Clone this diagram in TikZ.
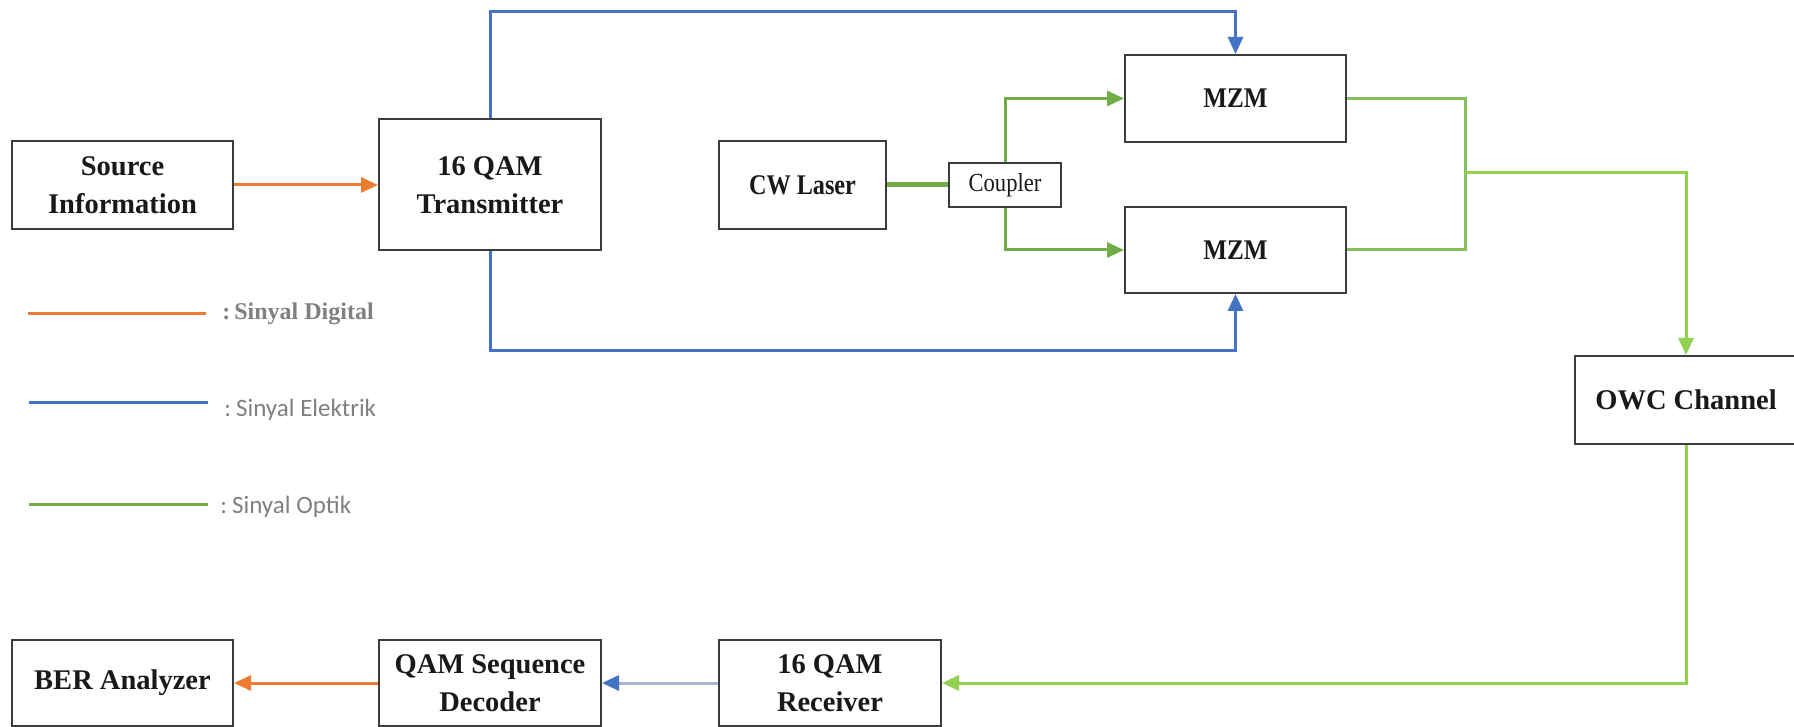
\documentclass[tikz,border=0pt]{standalone}
\usepackage{fontspec}
\setmainfont{Liberation Serif}
\newfontfamily\legsans{Carlito}
\usetikzlibrary{arrows.meta}
\definecolor{cOr}{HTML}{ED7D31}
\definecolor{cBl}{HTML}{4472C4}
\definecolor{cBlL}{HTML}{A6B6CF}
\definecolor{cGr}{HTML}{70AD47}
\definecolor{cGrM}{HTML}{86C05E}
\definecolor{cGrL}{HTML}{92D050}
\definecolor{cBox}{HTML}{3C3C3C}
\definecolor{cLeg}{HTML}{808080}
\begin{document}
\begin{tikzpicture}[x=0.5pt,y=-0.5pt,
  blk/.style={draw=cBox, line width=1pt, inner sep=0pt, align=center,
    font=\fontsize{14.25pt}{19pt}\selectfont\bfseries, text=black!90},
  tipA/.style={-{Triangle[length=8.5pt,width=7.5pt]}},
  wire/.style={line width=1.5pt},
  legtxt/.style={anchor=west, text=cLeg, inner sep=0pt}]
\useasboundingbox (0,0) rectangle (1794,727);
\fill[white] (0,0) rectangle (1794,727);

% blocks
\node[blk, minimum width=110.5pt, minimum height=44pt] (src) at (122.5,185) {Source\\Information};
\node[blk, minimum width=111pt, minimum height=65.5pt] (tx) at (490,185) {16 QAM\\Transmitter};
\node[blk, minimum width=83.5pt, minimum height=44pt] (cw) at (802.5,185) {\scalebox{0.85}[1]{CW Laser}};
\node[blk, minimum width=56pt, minimum height=22pt, font=\fontsize{13pt}{15pt}\selectfont] (cp) at (1005,185) {\scalebox{0.87}[1]{Coupler}};
\node[blk, minimum width=110.5pt, minimum height=43.5pt] (mzm1) at (1235.5,98.5) {\scalebox{0.88}[1]{MZM}};
\node[blk, minimum width=110.5pt, minimum height=43pt] (mzm2) at (1235.5,250) {\scalebox{0.88}[1]{MZM}};
\node[blk, minimum width=111pt, minimum height=44pt] (owc) at (1686,400) {OWC Channel};
\node[blk, minimum width=110.5pt, minimum height=43pt] (ber) at (122.5,683) {BER Analyzer};
\node[blk, minimum width=111pt, minimum height=43pt] (dec) at (490,683) {QAM Sequence\\Decoder};
\node[blk, minimum width=111pt, minimum height=43pt] (rx) at (830,683) {16 QAM\\Receiver};

% helper coordinates
\coordinate (bt) at (1235.5,12);
\coordinate (bb) at (1235.5,350);
\coordinate (mg) at (1465,173);

% digital
\draw[wire, cOr, tipA] (src.east) -- (tx.west);
\draw[wire, cOr, tipA] (dec.west) -- (ber.east);

% electrical
\draw[wire, cBl, tipA] (tx.north) |- (bt) -- (mzm1.north);
\draw[wire, cBl, tipA] (tx.south) |- (bb) -- (mzm2.south);
\draw[wire, cBlL, -{Triangle[length=8.5pt,width=7.5pt,color=cBl]}] (rx.west) -- (dec.east);

% optical
\draw[line width=2.5pt, cGr] (cw.east) -- (cp.west);
\draw[wire, cGr, tipA] (cp.north) |- (mzm1.west);
\draw[wire, cGr, tipA] (cp.south) |- (mzm2.west);
\draw[wire, cGrM] (mzm1.east) -| (mg);
\draw[wire, cGrM] (mzm2.east) -| (mg);
\draw[wire, cGrL, tipA] (mg) -| (owc.north);
\draw[wire, cGrL, tipA] (owc.south) |- (rx.east);

% legend
\coordinate (l1a) at (28,314); \coordinate (l1b) at (206,314);
\coordinate (l2a) at (29,402); \coordinate (l2b) at (208,402);
\coordinate (l3a) at (29,504); \coordinate (l3b) at (208,504);
\draw[wire, cOr] (l1a) -- (l1b);
\draw[wire, cBl] (l2a) -- (l2b);
\draw[wire, cGr] (l3a) -- (l3b);
\node[legtxt, font=\fontsize{12pt}{14pt}\selectfont\bfseries] (lg1) at (222,314) {:\hspace{2pt}Sinyal Digital};
\node[legtxt, font=\fontsize{12.5pt}{15pt}\selectfont\legsans] (lg2) at (224,410) {:\hspace{2.5pt}Sinyal Elektrik};
\node[legtxt, font=\fontsize{12.5pt}{15pt}\selectfont\legsans] (lg3) at (220,507) {:\hspace{2.5pt}Sinyal Optik};
\end{tikzpicture}
\end{document}
